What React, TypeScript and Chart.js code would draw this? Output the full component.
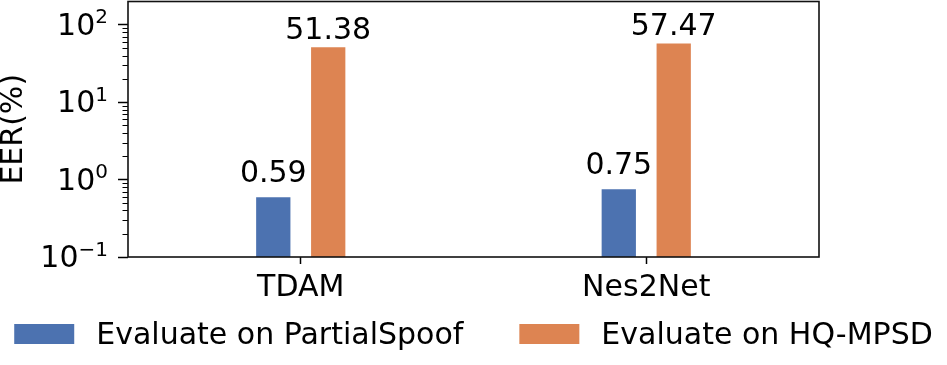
import React, { useEffect, useRef } from 'react';
import { Chart, registerables } from 'chart.js';

Chart.register(...registerables);

const categories = ['TDAM', 'Nes2Net'];
const seriesNames = ['Evaluate on PartialSpoof', 'Evaluate on HQ-MPSD'];
const partialSpoofEER = [0.59, 0.75];
const hqMpsdEER = [51.38, 57.47];
const partialSpoofLabels = ['0.59', '0.75'];
const hqMpsdLabels = ['51.38', '57.47'];
const yMajorTicks = [0.1, 1, 10, 100];
const yTickBase = '10';
const yTickExponents = ['−1', '0', '1', '2'];
const yMinorMultiples = [2, 3, 4, 5, 6, 7, 8, 9];
const seriesColors = ['#4C72B0', '#DD8452'];

const FONT = "'DejaVu Sans', sans-serif";
const FONT_SIZE = 30;
const EXP_SIZE = 20;

export default function App() {
  const ref = useRef<HTMLCanvasElement>(null);

  useEffect(() => {
    const canvas = ref.current;
    if (!canvas) return;

    const minorTicks: number[] = [];
    yMajorTicks.slice(0, -1).forEach((d) => {
      yMinorMultiples.forEach((m) => minorTicks.push(parseFloat((d * m).toPrecision(6))));
    });
    const allTicks = [...yMajorTicks, ...minorTicks].sort((a, b) => a - b);
    const majorIndex = (v: number) => yMajorTicks.findIndex((t) => Math.abs(t - v) < 1e-9);

    const valueLabelsByDataset = [partialSpoofLabels, hqMpsdLabels];
    const labelGaps = [15, 8];

    const valueLabelPlugin = {
      id: 'valueLabels',
      afterDatasetsDraw(chart: any) {
        const ctx = chart.ctx;
        ctx.save();
        ctx.font = `${FONT_SIZE}px ${FONT}`;
        ctx.fillStyle = '#000';
        ctx.textAlign = 'center';
        ctx.textBaseline = 'alphabetic';
        chart.data.datasets.forEach((_ds: any, di: number) => {
          const meta = chart.getDatasetMeta(di);
          meta.data.forEach((bar: any, i: number) => {
            ctx.fillText(valueLabelsByDataset[di][i], bar.x, bar.y - labelGaps[di]);
          });
        });
        ctx.restore();
      },
    };

    const yTickLabelPlugin = {
      id: 'yTickLabels',
      afterDraw(chart: any) {
        const { ctx, chartArea: a, scales } = chart;
        const ys = scales.y;
        ctx.save();
        ctx.fillStyle = '#000';
        ctx.textAlign = 'right';
        ctx.textBaseline = 'alphabetic';
        yMajorTicks.forEach((v, i) => {
          const py = ys.getPixelForValue(v);
          const xEnd = a.left - 20;
          ctx.font = `${EXP_SIZE}px ${FONT}`;
          const exp = yTickExponents[i];
          const ew = ctx.measureText(exp).width;
          ctx.fillText(exp, xEnd, py - 1.5);
          ctx.font = `${FONT_SIZE}px ${FONT}`;
          ctx.fillText(yTickBase, xEnd - ew, py + 10);
        });
        ctx.restore();
      },
    };

    const framePlugin = {
      id: 'frame',
      afterDraw(chart: any) {
        const { ctx, chartArea: a, scales } = chart;
        ctx.save();
        ctx.strokeStyle = '#000';
        ctx.lineWidth = 1;
        const ys = scales.y;
        minorTicks.forEach((v) => {
          const py = Math.round(ys.getPixelForValue(v)) + 0.5;
          ctx.beginPath();
          ctx.moveTo(a.left - 5.5, py);
          ctx.lineTo(a.left, py);
          ctx.stroke();
        });
        ctx.lineWidth = 1.6;
        ctx.strokeStyle = '#111';
        ctx.strokeRect(a.left, a.top, a.right - a.left, a.bottom - a.top);
        ctx.restore();
      },
    };

    const legendPlugin = {
      id: 'bottomLegend',
      afterDraw(chart: any) {
        const ctx = chart.ctx;
        ctx.save();
        ctx.font = `${FONT_SIZE}px ${FONT}`;
        const boxW = 60;
        const boxH = 20;
        const textGap = 22;
        const itemGap = 56;
        const items = chart.data.datasets.map((ds: any) => ({
          text: ds.label,
          color: ds.backgroundColor,
          w: ctx.measureText(ds.label).width,
        }));
        const total =
          items.reduce((s: number, it: any) => s + boxW + textGap + it.w, 0) + itemGap * (items.length - 1);
        let x = (chart.width - total) / 2;
        const boxTop = chart.chartArea.bottom + 67;
        items.forEach((it: any) => {
          ctx.fillStyle = it.color;
          ctx.fillRect(x, boxTop, boxW, boxH);
          ctx.fillStyle = '#000';
          ctx.textAlign = 'left';
          ctx.textBaseline = 'alphabetic';
          ctx.fillText(it.text, x + boxW + textGap, boxTop + boxH);
          x += boxW + textGap + it.w + itemGap;
        });
        ctx.restore();
      },
    };

    const chart = new Chart(canvas, {
      type: 'bar',
      data: {
        labels: categories,
        datasets: [
          {
            label: seriesNames[0],
            data: partialSpoofEER,
            backgroundColor: seriesColors[0],
            categoryPercentage: 0.318,
            barPercentage: 0.624,
          },
          {
            label: seriesNames[1],
            data: hqMpsdEER,
            backgroundColor: seriesColors[1],
            categoryPercentage: 0.318,
            barPercentage: 0.624,
          },
        ],
      },
      options: {
        responsive: false,
        animation: false,
        layout: { padding: { left: 0, right: 128, top: 1.5, bottom: 58 } },
        plugins: { legend: { display: false }, tooltip: { enabled: false } },
        scales: {
          x: {
            offset: true,
            grid: {
              display: true,
              offset: false,
              drawOnChartArea: false,
              drawTicks: true,
              tickLength: 7,
              tickWidth: 1.5,
              tickColor: '#000',
            },
            border: { display: false },
            ticks: {
              color: '#000',
              font: { family: FONT, size: FONT_SIZE },
              padding: 6,
              autoSkip: false,
              maxRotation: 0,
            },
            afterFit: (s: any) => {
              s.height = 50;
              s.paddingLeft = 0;
              s.paddingRight = 0;
            },
          },
          y: {
            type: 'logarithmic',
            min: 0.1,
            max: 200,
            bounds: 'data',
            afterBuildTicks: (s: any) => {
              s.ticks = allTicks.map((v) => ({ value: v }));
            },
            ticks: {
              autoSkip: false,
              color: '#000',
              font: { family: FONT, size: FONT_SIZE },
              padding: 11,
              callback: () => '',
            },
            grid: {
              drawOnChartArea: false,
              drawTicks: true,
              tickLength: 10,
              tickWidth: 1.5,
              tickColor: (c: any) => (c.tick && majorIndex(c.tick.value) >= 0 ? '#000' : 'rgba(0,0,0,0)'),
            },
            border: { display: false },
            title: {
              display: true,
              text: 'EER(%)',
              color: '#000',
              font: { family: FONT, size: FONT_SIZE },
              padding: { top: -4, bottom: 0 },
            },
            afterFit: (s: any) => {
              s.width = 128;
              s.paddingTop = 0;
              s.paddingBottom = 0;
            },
          },
        },
      } as any,
      plugins: [valueLabelPlugin, framePlugin, yTickLabelPlugin, legendPlugin],
    });

    return () => chart.destroy();
  }, []);

  return (
    <div style={{ position: 'absolute', left: 0, top: 0, width: 947, height: 365, background: '#fff' }}>
      <canvas ref={ref} width={947} height={365} style={{ display: 'block' }} />
    </div>
  );
}
